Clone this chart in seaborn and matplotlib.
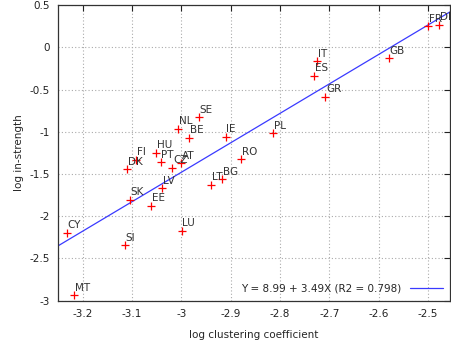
"""Scatter of log in-strength vs log clustering coefficient with a linear fit."""

import matplotlib

matplotlib.use("Agg")
import matplotlib.pyplot as plt
import pandas as pd
import seaborn as sns

countries = [
    "SE", "NL", "BE", "IE", "HU", "PT", "FI", "DK", "CZ", "AT",
    "SK", "EE", "LV", "CY", "SI", "LU", "MT", "LT", "BG",
    "IT", "ES", "GR", "GB", "PL", "RO", "FR", "DE",
]
log_clustering = [
    -2.964, -3.006, -2.984, -2.910, -3.051, -3.042, -3.092, -3.110, -3.018, -3.001,
    -3.104, -3.061, -3.038, -3.232, -3.114, -2.999, -3.217, -2.940, -2.917,
    -2.724, -2.730, -2.708, -2.580, -2.814, -2.879, -2.500, -2.478,
]
log_in_strength = [
    -0.829, -0.967, -1.070, -1.058, -1.251, -1.362, -1.334, -1.444, -1.429, -1.373,
    -1.808, -1.879, -1.669, -2.198, -2.344, -2.175, -2.936, -1.627, -1.563,
    -0.166, -0.340, -0.589, -0.131, -1.018, -1.326, 0.251, 0.267,
]

fit_intercept = 8.99
fit_slope = 3.49
fit_r2 = 0.798

FONT_SIZE = 7.5


def main() -> None:
    sns.set_style("white")
    plt.rcParams["font.family"] = ["DejaVu Sans"]
    plt.rcParams["axes.unicode_minus"] = False

    df = pd.DataFrame(
        {"country": countries, "x": log_clustering, "y": log_in_strength}
    )

    fig = plt.figure(figsize=(4.52, 3.44), dpi=100)
    ax = fig.add_axes([0.128, 0.126, 0.868, 0.859])

    sns.scatterplot(
        data=df, x="x", y="y", marker="+", color="red", s=30,
        linewidth=0.9, ax=ax, zorder=3, legend=False,
    )
    for _, row in df.iterrows():
        ax.annotate(
            row["country"], (row["x"], row["y"]), xytext=(0.5, 5.5),
            textcoords="offset points", ha="left", va="center",
            fontsize=FONT_SIZE, color="#333333", zorder=4,
        )

    label = f"Y = {fit_intercept:.2f} + {fit_slope:.2f}X (R2 = {fit_r2:.3f})"
    ax.axline((0, fit_intercept), slope=fit_slope, color="#3a3aff",
              lw=0.9, label=label, zorder=2)

    ax.set_xlim(-3.25, -2.455)
    ax.set_ylim(-3, 0.5)
    ax.set_xticks([-3.2, -3.1, -3.0, -2.9, -2.8, -2.7, -2.6, -2.5])
    ax.set_xticklabels(["-3.2", "-3.1", "-3", "-2.9", "-2.8", "-2.7", "-2.6", "-2.5"])
    ax.set_yticks([-3, -2.5, -2, -1.5, -1, -0.5, 0, 0.5])
    ax.set_yticklabels(["-3", "-2.5", "-2", "-1.5", "-1", "-0.5", "0", "0.5"])

    ax.grid(True, color="#aaaaaa", linestyle=(0, (1, 2)), lw=0.8)
    ax.tick_params(direction="in", top=True, right=True, length=4,
                   width=0.8, labelsize=FONT_SIZE, colors="#222222", pad=6)
    for spine in ax.spines.values():
        spine.set_color("#333333")
        spine.set_linewidth(0.9)

    ax.set_xlabel("log clustering coefficient", fontsize=FONT_SIZE, labelpad=8)
    ax.set_ylabel("log in-strength", fontsize=FONT_SIZE, labelpad=4)

    ax.legend(loc="lower right", markerfirst=False, frameon=False,
              fontsize=FONT_SIZE, handlelength=3.2, borderaxespad=0.3)

    fig.savefig("out.png", dpi=100)
    plt.close(fig)


if __name__ == "__main__":
    main()
